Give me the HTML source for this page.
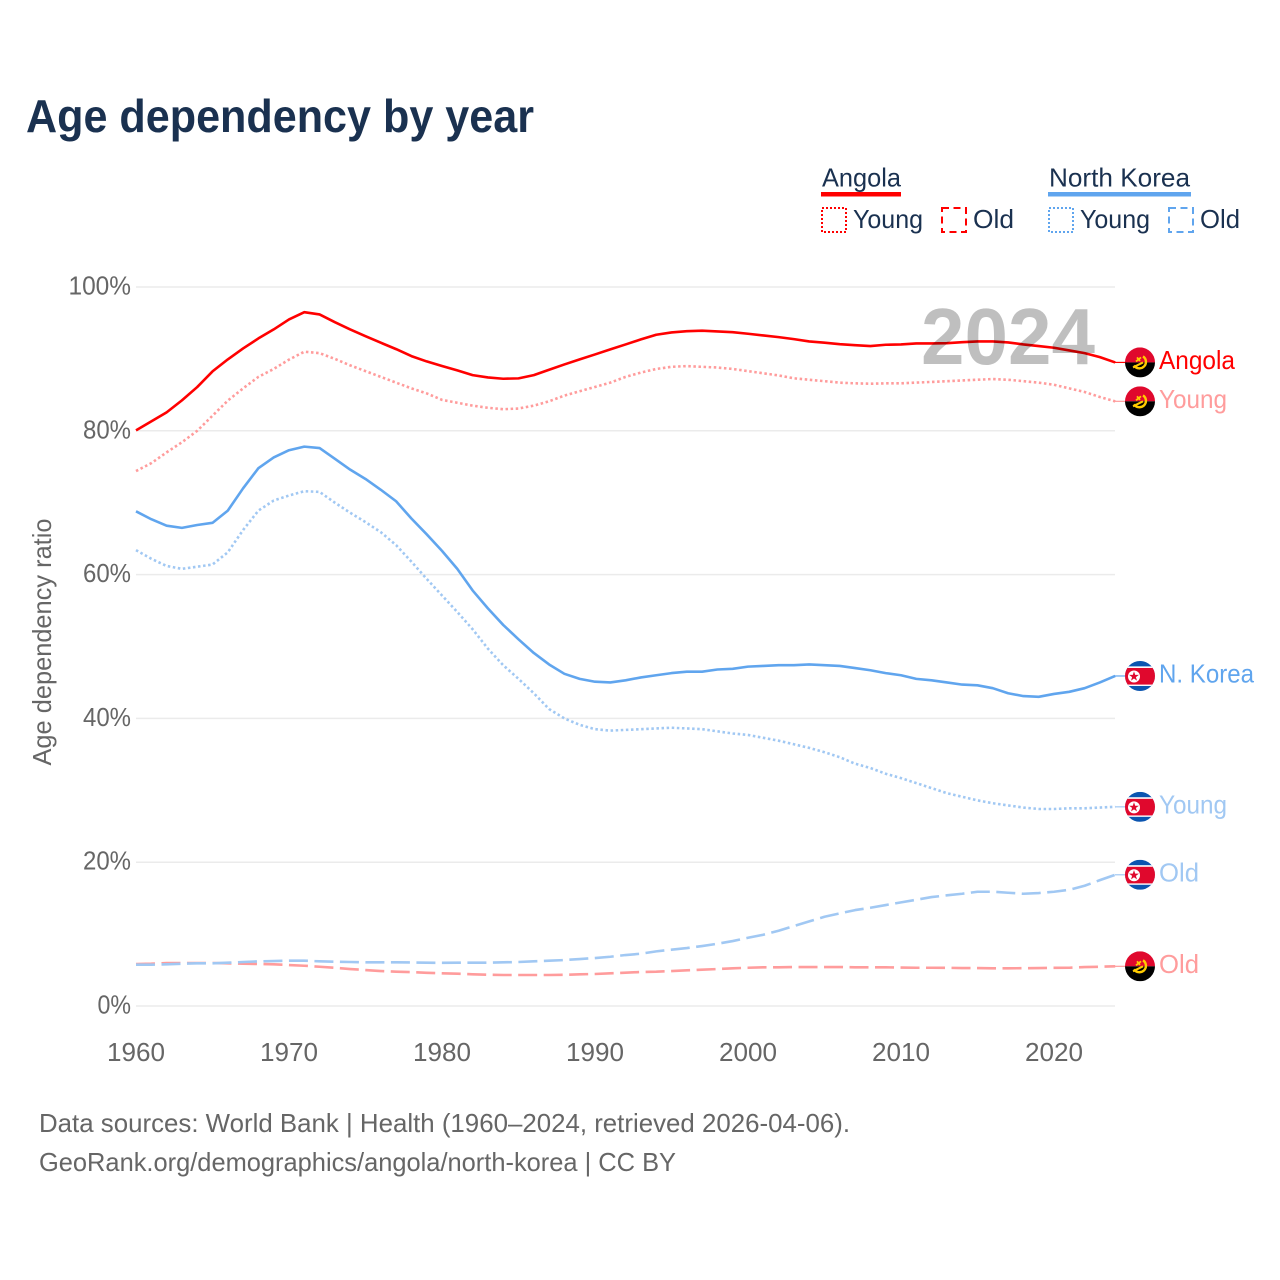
<!DOCTYPE html>
<html lang="en">
<head>
<meta charset="utf-8">
<title>Age dependency by year</title>
<style>
html,body{margin:0;padding:0;background:#fff;}
svg{display:block;}
text{font-family:"Liberation Sans",sans-serif;}
</style>
</head>
<body>
<svg id="chart" xmlns="http://www.w3.org/2000/svg" width="1280" height="1280" viewBox="0 0 1280 1280">
  <defs>
    <clipPath id="flag-clip"><circle cx="0" cy="0" r="15"/></clipPath>
    <g id="flag-angola" clip-path="url(#flag-clip)">
      <rect x="-15" y="-15" width="30" height="15" fill="#e0082d"/>
      <rect x="-15" y="0" width="30" height="15" fill="#000"/>
      <path d="M3,-6A6.5,6.5 0 1 1 -6,3" fill="none" stroke="#ffcb00" stroke-width="2.4"/>
      <path d="M-7,5L3,0" fill="none" stroke="#ffcb00" stroke-width="2"/>
      <path d="M-3,-5L0,-1.5M-4,-1L1,-5" fill="none" stroke="#ffcb00" stroke-width="1.8"/>
    </g>
    <g id="flag-korea" clip-path="url(#flag-clip)">
      <rect x="-15" y="-15" width="30" height="30" fill="#0b55b0"/>
      <rect x="-15" y="-9.6" width="30" height="19.6" fill="#fff"/>
      <rect x="-15" y="-8" width="30" height="16.6" fill="#e0082d"/>
      <circle cx="-6" cy="0.5" r="6" fill="#fff"/>
      <path d="M-6,-4.6L-4.8,-1.1L-1.1,-1.1L-4.1,1.1L-3,4.6L-6,2.5L-9,4.6L-7.9,1.1L-10.9,-1.1L-7.2,-1.1Z" fill="#e0082d"/>
    </g>
  </defs>

  <text x="26" y="132" font-size="46" font-weight="700" fill="#1a3150" textLength="508" lengthAdjust="spacingAndGlyphs">Age dependency by year</text>

  <g font-size="26" fill="#1a3150">
    <text x="822" y="186.5" textLength="79" lengthAdjust="spacingAndGlyphs">Angola</text>
    <rect x="821" y="192" width="80" height="4.5" fill="#ff0000"/>
    <rect x="822" y="208" width="24" height="24" fill="none" stroke="#ff0000" stroke-width="2" stroke-dasharray="2 2"/>
    <text x="853" y="228" textLength="70" lengthAdjust="spacingAndGlyphs">Young</text>
    <rect x="942" y="208" width="24" height="24" fill="none" stroke="#ff0000" stroke-width="2" stroke-dasharray="7 4.5"/>
    <text x="973" y="228" textLength="41" lengthAdjust="spacingAndGlyphs">Old</text>
    <text x="1049" y="186.5" textLength="141" lengthAdjust="spacingAndGlyphs">North Korea</text>
    <rect x="1048" y="192" width="143" height="4.5" fill="#60a5ee"/>
    <rect x="1049" y="208" width="24" height="24" fill="none" stroke="#60a5ee" stroke-width="2" stroke-dasharray="2 2"/>
    <text x="1080" y="228" textLength="70" lengthAdjust="spacingAndGlyphs">Young</text>
    <rect x="1169" y="208" width="24" height="24" fill="none" stroke="#60a5ee" stroke-width="2" stroke-dasharray="7 4.5"/>
    <text x="1200" y="228" textLength="40" lengthAdjust="spacingAndGlyphs">Old</text>
  </g>

  <g id="grid"></g>
  <g id="y-ticks"></g>
  <g id="x-ticks"></g>
  <text transform="translate(51,642) rotate(-90)" text-anchor="middle" font-size="26" fill="#666" textLength="247" lengthAdjust="spacingAndGlyphs">Age dependency ratio</text>
  <g id="series"></g>
  <text x="1095" y="364" text-anchor="end" font-size="80" font-weight="700" fill="#000" fill-opacity="0.25" textLength="174" lengthAdjust="spacingAndGlyphs">2024</text>
  <g id="end-labels"></g>

  <text x="39" y="1132" font-size="26" fill="#666" textLength="811" lengthAdjust="spacingAndGlyphs">Data sources: World Bank | Health (1960–2024, retrieved 2026-04-06).</text>
  <text x="39" y="1171" font-size="26" fill="#666" textLength="637" lengthAdjust="spacingAndGlyphs">GeoRank.org/demographics/angola/north-korea | CC BY</text>
</svg>
<script>
const years = [1960,1961,1962,1963,1964,1965,1966,1967,1968,1969,1970,1971,1972,1973,1974,1975,1976,1977,1978,1979,1980,1981,1982,1983,1984,1985,1986,1987,1988,1989,1990,1991,1992,1993,1994,1995,1996,1997,1998,1999,2000,2001,2002,2003,2004,2005,2006,2007,2008,2009,2010,2011,2012,2013,2014,2015,2016,2017,2018,2019,2020,2021,2022,2023,2024];
const xTickYears = [1960,1970,1980,1990,2000,2010,2020];
const yTickValues = [0,20,40,60,80,100];

const angolaTotal = [80.06,81.31,82.56,84.23,86.08,88.26,89.93,91.45,92.85,94.10,95.49,96.50,96.18,95.11,94.10,93.16,92.25,91.36,90.39,89.65,89.02,88.40,87.74,87.42,87.24,87.29,87.74,88.49,89.23,89.93,90.62,91.32,92.01,92.71,93.36,93.68,93.86,93.92,93.82,93.72,93.50,93.26,93.03,92.75,92.43,92.25,92.05,91.91,91.78,91.97,92.01,92.15,92.15,92.19,92.33,92.43,92.43,92.29,92.01,91.78,91.55,91.18,90.80,90.25,89.51];
const angolaYoung = [74.4,75.5,77.0,78.4,80.0,82.1,84.2,85.9,87.5,88.6,89.9,91.0,90.8,90.0,89.1,88.3,87.5,86.7,85.9,85.2,84.3,83.9,83.5,83.2,83.0,83.1,83.5,84.1,84.9,85.5,86.1,86.7,87.5,88.1,88.6,88.9,89.0,88.9,88.8,88.6,88.3,88.0,87.7,87.3,87.1,86.9,86.7,86.6,86.55,86.6,86.6,86.7,86.8,86.9,87.0,87.1,87.2,87.1,86.9,86.7,86.4,85.9,85.4,84.7,84.1];
const angolaOld = [5.84,5.88,5.98,5.98,5.98,5.98,5.93,5.88,5.84,5.80,5.70,5.60,5.46,5.32,5.14,5.00,4.86,4.77,4.72,4.62,4.55,4.49,4.41,4.35,4.31,4.31,4.31,4.31,4.34,4.41,4.45,4.54,4.63,4.73,4.77,4.86,4.96,5.05,5.14,5.24,5.32,5.38,5.38,5.42,5.42,5.42,5.42,5.38,5.38,5.38,5.35,5.32,5.32,5.31,5.28,5.28,5.24,5.24,5.26,5.28,5.31,5.32,5.42,5.46,5.52];
const koreaTotal = [68.8,67.7,66.8,66.5,66.9,67.2,68.9,72.0,74.8,76.3,77.3,77.8,77.6,76.1,74.6,73.3,71.8,70.2,67.8,65.6,63.3,60.8,57.8,55.3,53.0,51.0,49.1,47.5,46.2,45.5,45.1,45.0,45.3,45.7,46.0,46.3,46.5,46.5,46.8,46.9,47.2,47.3,47.4,47.4,47.5,47.4,47.3,47.0,46.7,46.3,46.0,45.5,45.3,45.0,44.7,44.6,44.2,43.5,43.1,43.0,43.4,43.7,44.2,45.0,45.9];
const koreaYoung = [63.4,62.2,61.2,60.8,61.1,61.4,63.1,66.2,68.9,70.3,71.0,71.6,71.5,70.0,68.6,67.3,65.9,64.1,61.8,59.4,57.1,54.8,52.4,49.7,47.4,45.5,43.5,41.3,40.0,39.1,38.5,38.3,38.4,38.5,38.6,38.7,38.6,38.5,38.2,37.9,37.7,37.3,36.9,36.4,35.9,35.3,34.6,33.7,33.1,32.3,31.7,31.0,30.3,29.6,29.1,28.6,28.2,27.9,27.6,27.4,27.4,27.5,27.5,27.6,27.7];
const koreaOld = [5.74,5.74,5.80,5.88,5.93,5.93,6.02,6.12,6.21,6.25,6.30,6.30,6.21,6.16,6.12,6.07,6.07,6.07,6.05,6.02,6.00,6.02,6.02,6.02,6.07,6.12,6.21,6.30,6.39,6.53,6.67,6.85,7.09,7.27,7.60,7.83,8.06,8.34,8.66,9.03,9.49,9.91,10.47,11.12,11.77,12.41,12.88,13.34,13.66,14.04,14.41,14.77,15.15,15.39,15.61,15.89,15.89,15.75,15.61,15.71,15.89,16.16,16.72,17.51,18.25];

const NS = 'http://www.w3.org/2000/svg';
const xScale = function (year) { return 136 + (year - 1960) * 15.3; };
const yScale = function (value) { return 1006 - value * 7.19; };

function make(tag, attrs, parent) {
  const el = document.createElementNS(NS, tag);
  for (const key in attrs) { el.setAttribute(key, attrs[key]); }
  parent.appendChild(el);
  return el;
}

const gridGroup = document.getElementById('grid');
const yTickGroup = document.getElementById('y-ticks');
yTickValues.forEach(function (v) {
  const line = make('line', {x1: 136, x2: 1115, y1: yScale(v), y2: yScale(v), stroke: '#ebebeb', 'stroke-width': 1.5}, gridGroup);
  
  
  const label = String(v) + '%';
  const t = make('text', {x: 131, y: yScale(v) + 7.5, 'text-anchor': 'end', 'font-size': 26, fill: '#666', textLength: 14.5 * (label.length - 1) + 19, lengthAdjust: 'spacingAndGlyphs'}, yTickGroup);
  t.textContent = label;
  
  
});

const xTickGroup = document.getElementById('x-ticks');
xTickYears.forEach(function (year) {
  const t = make('text', {x: xScale(year), y: 1061, 'text-anchor': 'middle', 'font-size': 26, fill: '#666', textLength: 58, lengthAdjust: 'spacingAndGlyphs'}, xTickGroup);
  t.textContent = String(year);
  
  
});

const RED = '#ff0000', RED_LIGHT = '#ff9c9c', BLUE = '#60a5ee', BLUE_LIGHT = '#a1c8f3';
const DOTTED = '2.5 2.6', DASHED = '19 6.5';
const seriesGroup = document.getElementById('series');
const labelGroup = document.getElementById('end-labels');

function drawSeries(values, color, dash, seriesName, flagId, labelText, labelWidth) {
  const d = values.map(function (v, i) {
    return (i ? 'L' : 'M') + xScale(years[i]).toFixed(2) + ',' + yScale(v).toFixed(2);
  }).join('');
  const attrs = {d: d, fill: 'none', stroke: color, 'stroke-width': 2.6, 'stroke-linejoin': 'round'};
  if (dash) { attrs['stroke-dasharray'] = dash; }
  const path = make('path', attrs, seriesGroup);
  
  

  const last = yScale(values[values.length - 1]);
  const connector = make('line', {x1: 1115, x2: 1127, y1: last, y2: last, stroke: color, 'stroke-width': 1.2}, labelGroup);
  
  

  const flag = make('use', {href: '#' + flagId, transform: 'translate(1140,' + last + ')'}, labelGroup);
  
  

  const text = make('text', {x: 1159, y: last + 6.5, 'font-size': 26, fill: color, textLength: labelWidth, lengthAdjust: 'spacingAndGlyphs'}, labelGroup);
  text.textContent = labelText;
  
  
}

drawSeries(angolaOld, RED_LIGHT, DASHED, 'angola-old', 'flag-angola', 'Old', 40);
drawSeries(koreaOld, BLUE_LIGHT, DASHED, 'korea-old', 'flag-korea', 'Old', 40);
drawSeries(angolaYoung, RED_LIGHT, DOTTED, 'angola-young', 'flag-angola', 'Young', 68);
drawSeries(koreaYoung, BLUE_LIGHT, DOTTED, 'korea-young', 'flag-korea', 'Young', 68);
drawSeries(angolaTotal, RED, null, 'angola-total', 'flag-angola', 'Angola', 76);
drawSeries(koreaTotal, BLUE, null, 'korea-total', 'flag-korea', 'N. Korea', 95);
</script>
</body>
</html>
